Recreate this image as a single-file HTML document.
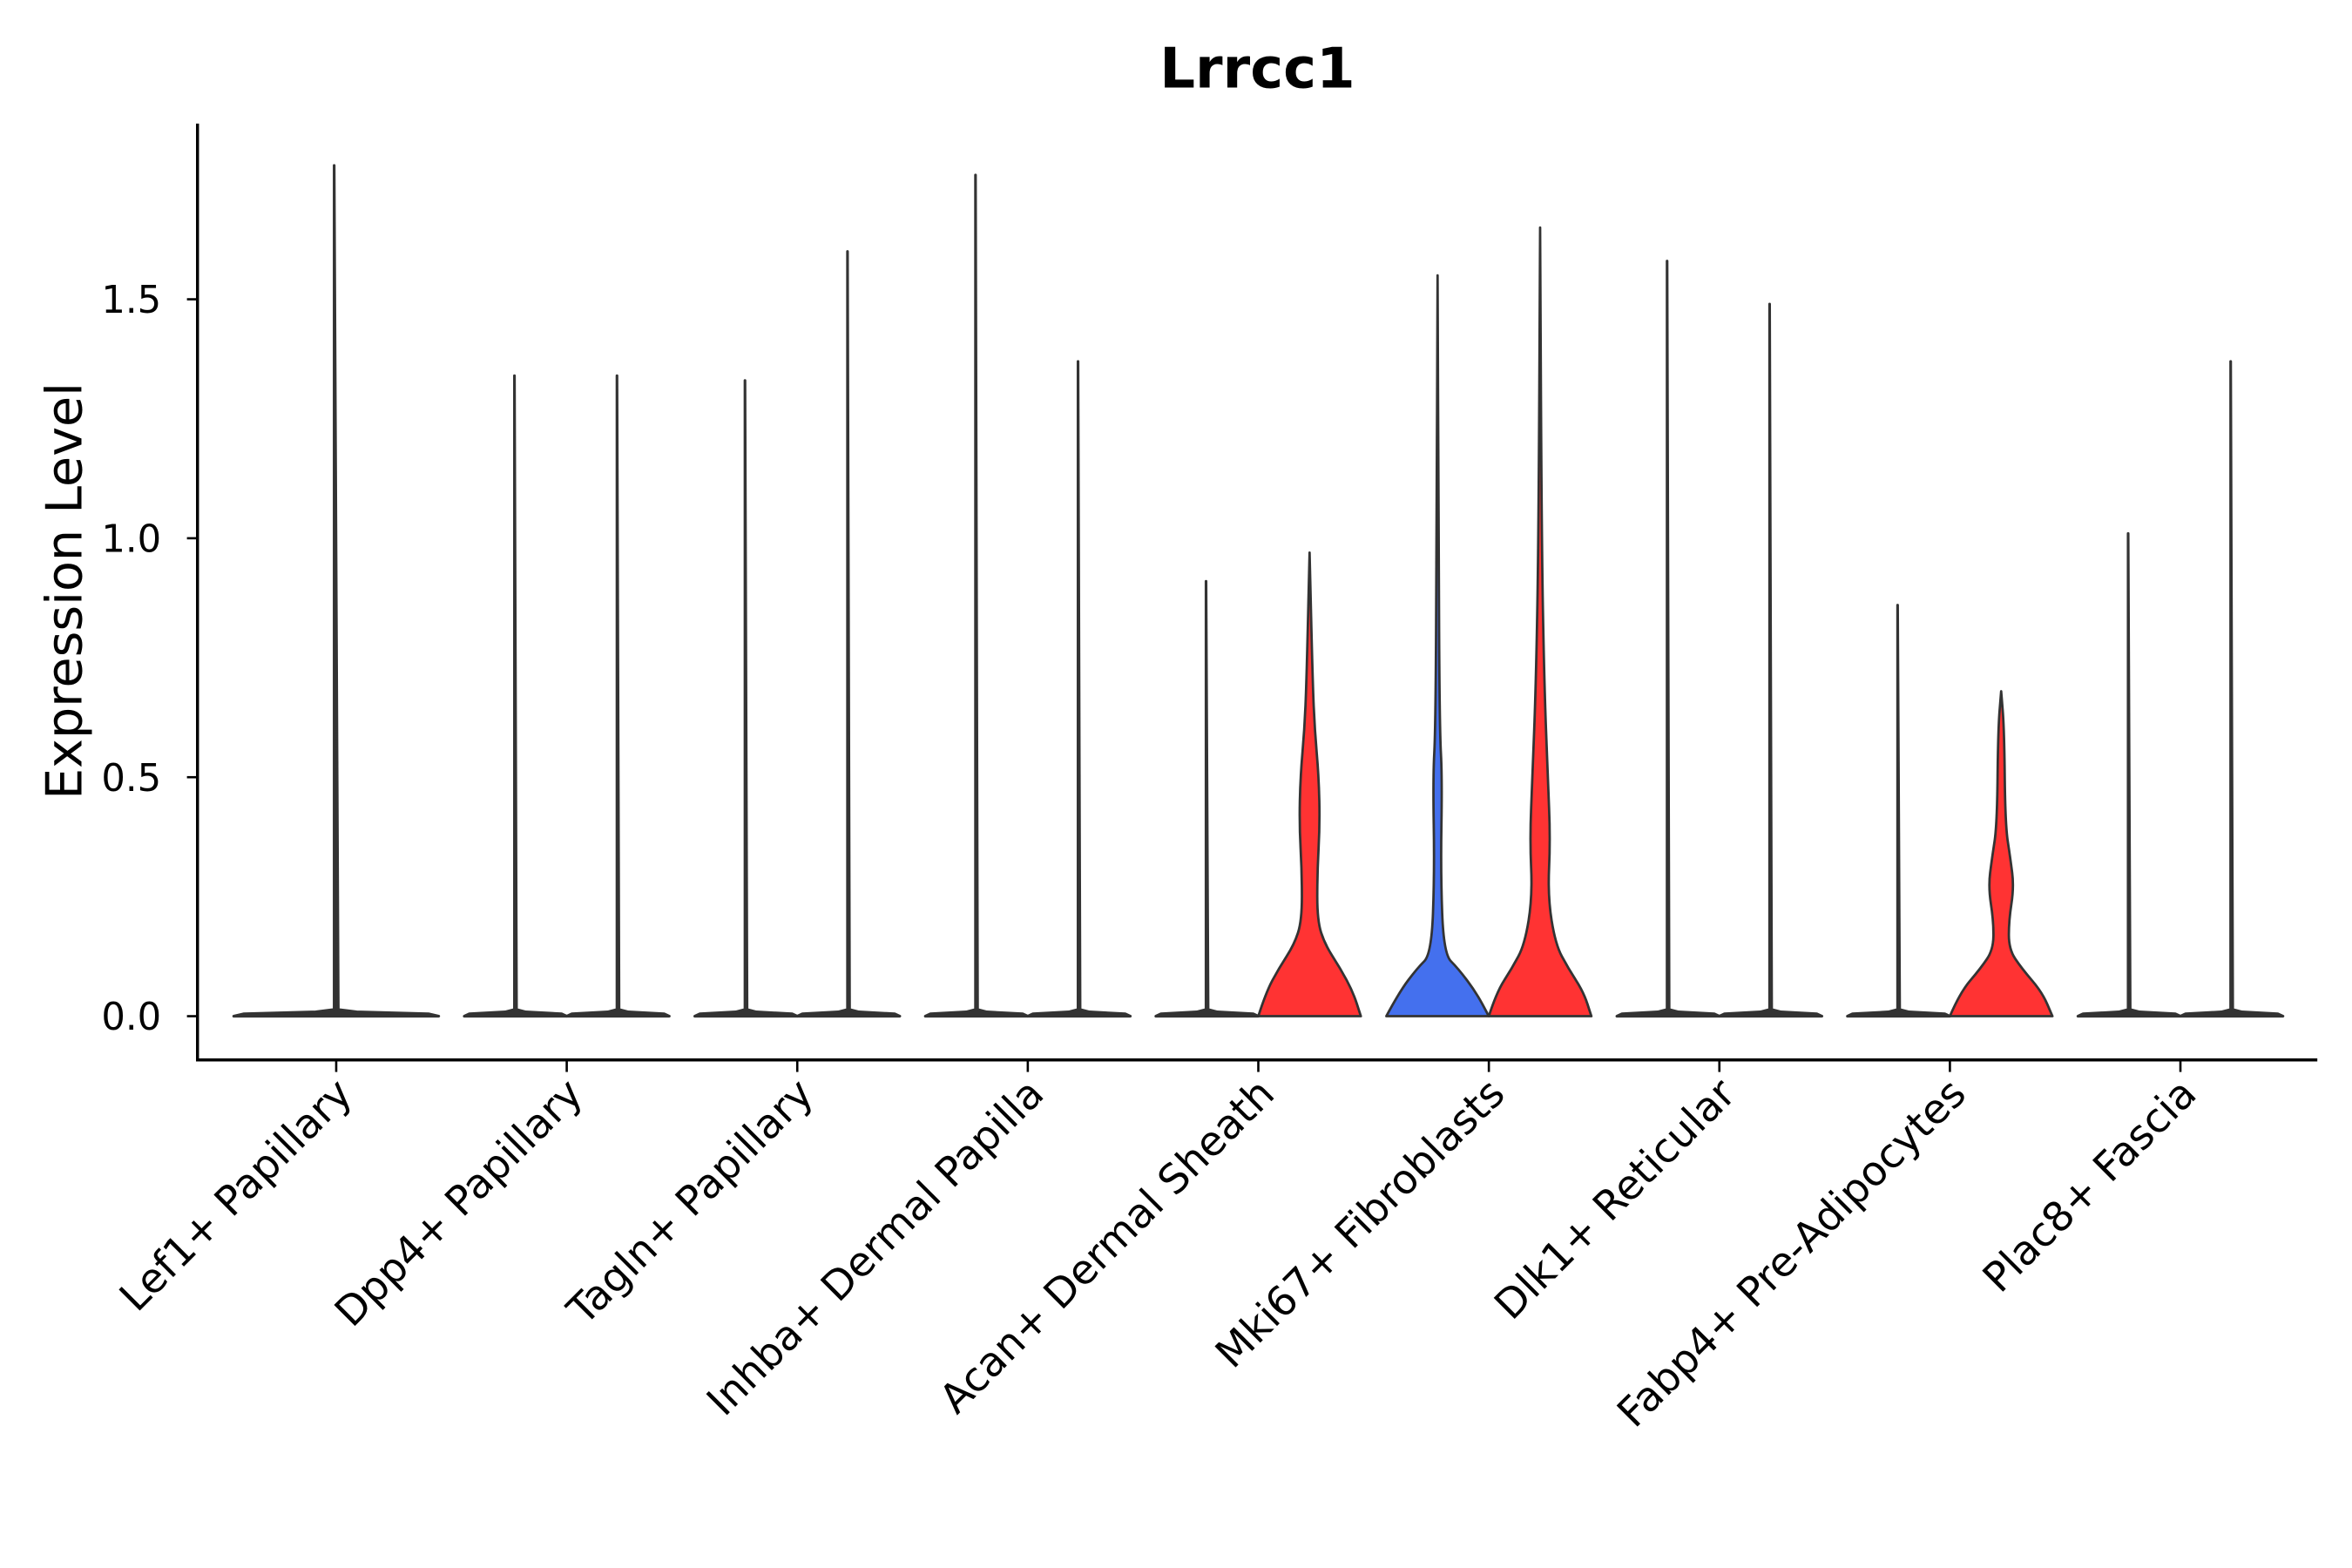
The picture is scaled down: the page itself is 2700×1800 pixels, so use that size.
<!DOCTYPE html>
<html><head><meta charset="utf-8"><style>html,body{margin:0;padding:0;background:#fff}svg{display:block}</style></head>
<body>
<svg id="chart" width="2700" height="1800" viewBox="0 0 1560 1040" xmlns="http://www.w3.org/2000/svg" font-family="'DejaVu Sans','Liberation Sans',sans-serif">
<rect width="1560" height="1040" fill="#fff"/>
<text x="834" y="58" text-anchor="middle" font-size="37" font-weight="bold">Lrrcc1</text>
<text transform="translate(54,392) rotate(-90)" text-anchor="middle" font-size="33">Expression Level</text>
<g id="plot"></g>
</svg>
<script>
const categories = ["Lef1+ Papillary","Dpp4+ Papillary","Tagln+ Papillary","Inhba+ Dermal Papilla","Acan+ Dermal Sheath","Mki67+ Fibroblasts","Dlk1+ Reticular","Fabp4+ Pre-Adipocytes","Plac8+ Fascia"];
const leftMax = [1.78,1.34,1.33,1.76,0.91,1.55,1.58,0.86,1.01];
const rightMax = [null,1.34,1.60,1.37,0.97,1.65,1.49,0.68,1.37];
const yTicks = [0,0.5,1.0,1.5];
const yTickLabels = ["0.0","0.5","1.0","1.5"];
const acanRightLevels = [0,0.05,0.1,0.15,0.2,0.3,0.4,0.5,0.6,0.7,0.97];
const acanRightWidths = [1,0.85,0.6,0.3,0.15,0.15,0.2,0.18,0.1,0.06,0];
const mkiLeftLevels = [0,0.05,0.1,0.13,0.3,0.5,0.6,1.0,1.55];
const mkiLeftWidths = [1,0.75,0.4,0.12,0.06,0.09,0.04,0.02,0];
const mkiRightLevels = [0,0.05,0.1,0.15,0.25,0.37,0.5,0.7,1.0,1.65];
const mkiRightWidths = [1,0.85,0.55,0.3,0.15,0.2,0.15,0.08,0.03,0];
const fabpRightLevels = [0,0.05,0.1,0.14,0.2,0.27,0.33,0.4,0.6,0.68];
const fabpRightWidths = [1,0.8,0.4,0.15,0.15,0.25,0.18,0.08,0.06,0];
const flatLevels = [0,0.005,0.009,0.014];
const flatWidths = [1,0.9,0.2,0.02];

const NS="http://www.w3.org/2000/svg";
const g=document.getElementById('plot');
const x0=131,x1=1537,yTop=82,yBot=703;
const xC=i=>223+i*152.9;
const yS=v=>674-v*317;
function mk(tag,attrs){const e=document.createElementNS(NS,tag);for(const k in attrs)e.setAttribute(k,attrs[k]);g.appendChild(e);return e;}
function smoothPath(pts){
  let d='M'+pts[0][0]+','+pts[0][1];
  for(let k=1;k<pts.length-1;k++){
    const mx=(pts[k][0]+pts[k+1][0])/2,my=(pts[k][1]+pts[k+1][1])/2;
    d+=' Q'+pts[k][0]+','+pts[k][1]+' '+mx+','+my;
  }
  d+=' L'+pts[pts.length-1][0]+','+pts[pts.length-1][1];
  return d;
}
function violin(cx,hw,levels,widths,fill,name,smooth,sw){
  let L=[],R=[];
  for(let k=0;k<levels.length;k++){L.push([cx-widths[k]*hw,yS(levels[k])]);R.unshift([cx+widths[k]*hw,yS(levels[k])]);}
  const d=smooth?smoothPath(L.concat(R))+' Z':'M'+L.concat(R.slice(1)).map(p=>p.join(',')).join(' L')+' Z';
  const p=mk('path',{d:d,fill:fill,stroke:'#333','stroke-width':sw||1.6,'stroke-linejoin':'round'});
  
  
}
function flat(cx,hw,max,name){
  violin(cx,hw,flatLevels.concat([max]),flatWidths.concat([0.02]),'#333',name,false,1.8);
}
categories.forEach((c,i)=>{
  const cx=xC(i);
  if(rightMax[i]===null){flat(cx,68,leftMax[i],'violin-'+i);}
  else{
    const lx=cx-34,rx=cx+34;
    if(i===5) violin(lx,34,mkiLeftLevels,mkiLeftWidths,'#4470EE','violin-left-'+i,true);
    else flat(lx,34,leftMax[i],'violin-left-'+i);
    if(i===4) violin(rx,34,acanRightLevels,acanRightWidths,'#FF3333','violin-right-'+i,true);
    else if(i===5) violin(rx,34,mkiRightLevels,mkiRightWidths,'#FF3333','violin-right-'+i,true);
    else if(i===7) violin(rx,34,fabpRightLevels,fabpRightWidths,'#FF3333','violin-right-'+i,true);
    else flat(rx,34,rightMax[i],'violin-right-'+i);
  }
  const t=mk('line',{x1:cx,x2:cx,y1:yBot,y2:yBot+8,stroke:'#000','stroke-width':1.5});
  
  
  const lb=mk('text',{transform:`translate(${cx+12},${yBot+24}) rotate(-45)`,'text-anchor':'end','font-size':27});
  lb.textContent=c;
  
  
});
yTicks.forEach((v,k)=>{
  const t=mk('line',{x1:x0-7,x2:x0,y1:yS(v),y2:yS(v),stroke:'#000','stroke-width':1.5});
  
  
  const lb=mk('text',{x:x0-24,y:yS(v)+9,'text-anchor':'end','font-size':25});
  lb.textContent=yTickLabels[k];
  
  
});
const ya=mk('line',{x1:x0,x2:x0,y1:yTop,y2:yBot,stroke:'#000','stroke-width':2});


const xa=mk('line',{x1:x0-1,x2:x1,y1:yBot,y2:yBot,stroke:'#000','stroke-width':2});


</script>
</body></html>
